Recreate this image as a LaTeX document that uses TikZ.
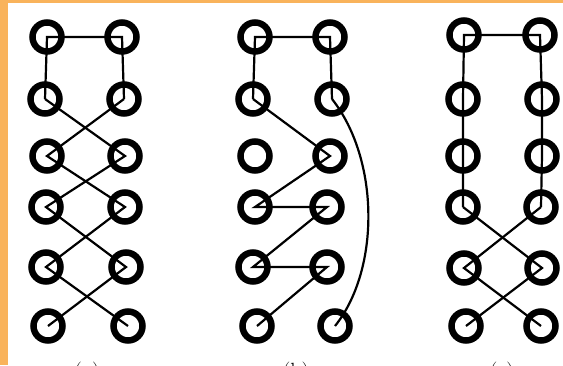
\documentclass[tikz,border=0pt]{standalone}
\usepackage{tikz}
\definecolor{frame}{HTML}{F9B35B}
\tikzset{ring/.style={circle,draw,line width=6.5pt,minimum size=29pt,inner sep=0pt},link/.style={line width=2.2pt},sublabel/.style={font=\fontsize{22}{26}\selectfont,anchor=base}}

\begin{document}
\begin{tikzpicture}[x=1pt,y=-1pt]
\fill[frame] (0,0) rectangle (563,365);
\fill[white] (8,3) rectangle (563,365);
\useasboundingbox (0,0) rectangle (563,365);
% (a) crossings all the way down
\node[ring] (a1l) at (47,37) {}; \node[ring] (a1r) at (122,37) {};
\node[ring] (a2l) at (45,99) {}; \node[ring] (a2r) at (124,99) {};
\node[ring] (a3l) at (47,156) {}; \node[ring] (a3r) at (125,156) {};
\node[ring] (a4l) at (46,207) {}; \node[ring] (a4r) at (125,207) {};
\node[ring] (a5l) at (46,267) {}; \node[ring] (a5r) at (126,267) {};
\node[ring] (a6l) at (48,326) {}; \node[ring] (a6r) at (128,326) {};
\draw[link] (a2l.center)--(a1l.center)--(a1r.center)--(a2r.center);
\draw[link] (a2l.center)--(a3r.center)--(a4l.center)--(a5r.center)--(a6l.center);
\draw[link] (a2r.center)--(a3l.center)--(a4r.center)--(a5l.center)--(a6r.center);
% (b) zigzag with one free ring
\node[ring] (b1l) at (255,37) {}; \node[ring] (b1r) at (330,37) {};
\node[ring] (b2l) at (253,99) {}; \node[ring] (b2r) at (332,99) {};
\node[ring] (b3l) at (255,156) {}; \node[ring] (b3r) at (330,156) {};
\node[ring] (b4l) at (255,207) {}; \node[ring] (b4r) at (327,207) {};
\node[ring] (b5l) at (253,267) {}; \node[ring] (b5r) at (327,267) {};
\node[ring] (b6l) at (257,326) {}; \node[ring] (b6r) at (335,326) {};
\draw[link] (b2l.center)--(b1l.center)--(b1r.center)--(b2r.center);
\draw[link] (b2l.center)--(b3r.center)--(b4l.center)--(b4r.center)--(b5l.center)--(b5r.center)--(b6l.center);
\draw[link] (b2r.center) .. controls (380,160) and (380,270) .. (b6r.center);
% (c) straight then two crossings
\node[ring] (c1l) at (464,35) {}; \node[ring] (c1r) at (540,35) {};
\node[ring] (c2l) at (463,99) {}; \node[ring] (c2r) at (542,99) {};
\node[ring] (c3l) at (463,156) {}; \node[ring] (c3r) at (542,156) {};
\node[ring] (c4l) at (463,207) {}; \node[ring] (c4r) at (541,207) {};
\node[ring] (c5l) at (464,268) {}; \node[ring] (c5r) at (542,268) {};
\node[ring] (c6l) at (466,326) {}; \node[ring] (c6r) at (541,326) {};
\draw[link] (c4l.center)--(c3l.center)--(c2l.center)--(c1l.center)--(c1r.center)--(c2r.center)--(c3r.center)--(c4r.center);
\draw[link] (c4l.center)--(c5r.center)--(c6l.center);
\draw[link] (c4r.center)--(c5l.center)--(c6r.center);
% captions, mostly below the frame
\node[sublabel] (la) at (87,378) {(a)};
\node[sublabel] (lb) at (296,378) {(b)};
\node[sublabel] (lc) at (502,378) {(c)};
\end{tikzpicture}
\end{document}
